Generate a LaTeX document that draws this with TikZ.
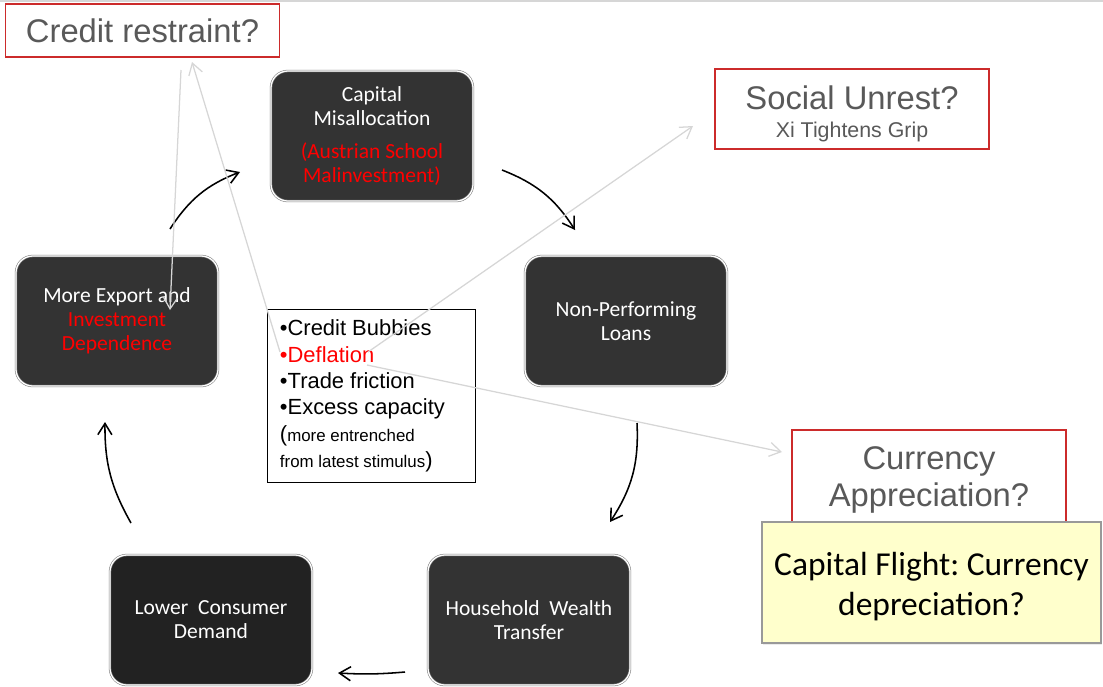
\documentclass[tikz,border=0pt]{standalone}
\usepackage{fontspec}
\usepackage{xcolor}
\setmainfont{Liberation Sans}
\newfontfamily\cyclefont{Carlito}
\usetikzlibrary{arrows.meta}
\usetikzlibrary{shadows}
\frenchspacing

\definecolor{cyclegray}{HTML}{333333}
\definecolor{cycledark}{HTML}{222222}
\definecolor{queryred}{HTML}{CC2B2B}
\definecolor{querytext}{HTML}{595959}
\definecolor{linkgray}{HTML}{D6D6D6}
\definecolor{flightyellow}{HTML}{FFFFCC}

\tikzset{
  cyclebox/.style={rectangle, rounded corners=12pt, fill=cyclegray,
    draw=black!50, double=white, double distance=0.9pt, line width=0.4pt,
    minimum width=5.05cm, minimum height=3.25cm, text=white, align=center,
    font=\cyclefont\fontsize{15.3}{17}\selectfont},
  querybox/.style={rectangle, draw=queryred, line width=0.8pt, fill=white,
    text=querytext, align=center, minimum width=6.85cm},
  bigq/.style={font=\fontsize{23.3}{26.3}\selectfont},
  flow/.style={-{Straight Barb[length=8pt,width=10pt]}, line width=1.1pt, black},
  link/.style={-{Straight Barb[length=8pt,width=10pt]}, line width=0.9pt, linkgray}
}

\begin{document}
\begin{tikzpicture}[x=0.025cm, y=-0.025cm]
\useasboundingbox (0,0) rectangle (1103,686);
\draw[linkgray, line width=0.8pt] (0,1) -- (1103,1);

% the loop
\node [cyclebox] (cap) at (372,136)
  {Capital\\Misallocation\\[7pt]\textcolor{red}{(Austrian School}\\\textcolor{red}{Malinvestment)}};
\node [cyclebox] (npl) at (626,321) {Non-Performing\\Loans};
\node [cyclebox] (hwt) at (529,620) {Household\ \ Wealth\\Transfer};
\node [cyclebox, fill=cycledark] (lcd) at (211,620) {Lower\ \ Consumer\\Demand};
\node [cyclebox] (exp) at (117,321)
  {More Export and\\\textcolor{red}{Investment}\\\textcolor{red}{Dependence}};

% symptoms in the middle
\node [rectangle, draw=black, line width=0.7pt, fill=white, minimum width=5.175cm,
       minimum height=4.3cm, inner xsep=0.3cm, text width=4.575cm, align=flush left,
       font=\fontsize{15.6}{18.8}\selectfont] (symptoms) at (371.5,396)
  {•Credit Bubbies\\
   \textcolor{red}{•Deflation}\\
   •Trade friction\\
   •Excess capacity\\
   ({\fontsize{12}{18.8}\selectfont more entrenched}\\
   {\fontsize{12}{18.8}\selectfont from latest stimulus})};

% questions
\node [querybox, bigq, minimum height=1.325cm] (credit) at (142.5,30.5) {Credit restraint?};
\node [querybox, minimum height=2cm, font=\fontsize{15.2}{20}\selectfont] (social) at (852,109)
  {\rule{0pt}{24pt}{\fontsize{23.3}{26}\selectfont Social Unrest?}\\
   Xi Tightens Grip};
\node [querybox, bigq, minimum height=2.5cm] (currency) at (929,480)
  {Currency\\Appreciation?};
\node [rectangle, fill=flightyellow, draw=black!40, line width=0.8pt,
       minimum width=8.475cm, minimum height=3.025cm, align=center,
       drop shadow={shadow xshift=0.8pt, shadow yshift=-1.5pt, fill=black!15},
       font=\cyclefont\fontsize{23.8}{28.5}\selectfont] (flight) at (931.5,582.5)
  {\rule{0pt}{22pt}Capital Flight: Currency\\depreciation?};

% arrows of the loop
\coordinate (exp-out) at (170,229);
\coordinate (cap-in) at (240,172);
\coordinate (cap-out) at (502,170);
\coordinate (npl-in) at (575,230);
\coordinate (npl-out) at (637,423);
\coordinate (hwt-in) at (610,522);
\coordinate (hwt-out) at (405,672);
\coordinate (lcd-in) at (338,673);
\coordinate (lcd-out) at (131,523);
\coordinate (exp-in) at (105,422);
\draw [flow] (exp-out) to[bend left=18] (cap-in);
\draw [flow] (cap-out) to[bend left=18] (npl-in);
\draw [flow] (npl-out) to[bend left=18] (hwt-in);
\draw [flow] (hwt-out) to[bend left=4] (lcd-in);
\draw [flow] (lcd-out) to[bend left=15] (exp-in);

% links out of the middle box
\coordinate (defl-up) at (368,352);
\coordinate (defl-right) at (367,365);
\coordinate (defl-left) at (280,352);
\coordinate (social-in) at (693,126);
\coordinate (currency-in) at (782,452);
\coordinate (credit-in) at (192,62);
\coordinate (credit-out) at (181,70);
\coordinate (exp-down) at (170,310);
\draw [link] (defl-up) -- (social-in);
\draw [link] (defl-right) -- (currency-in);
\draw [link] (defl-left) -- (credit-in);
\draw [link] (credit-out) -- (exp-down);
\end{tikzpicture}
\end{document}
